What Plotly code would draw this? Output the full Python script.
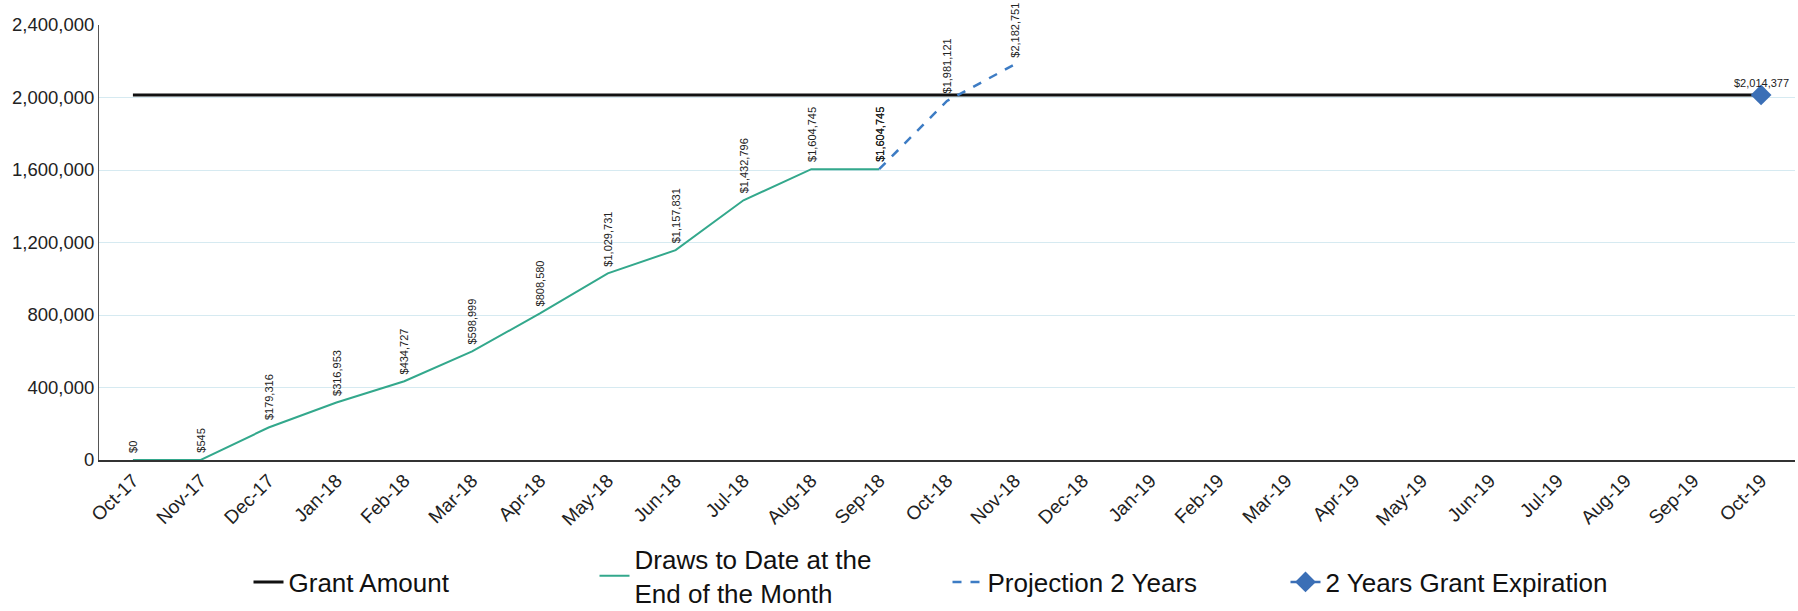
import plotly.graph_objects as go

# Monthly categories, Oct-17 through Oct-19
months = ["Oct-17", "Nov-17", "Dec-17", "Jan-18", "Feb-18", "Mar-18", "Apr-18",
          "May-18", "Jun-18", "Jul-18", "Aug-18", "Sep-18", "Oct-18", "Nov-18",
          "Dec-18", "Jan-19", "Feb-19", "Mar-19", "Apr-19", "May-19", "Jun-19",
          "Jul-19", "Aug-19", "Sep-19", "Oct-19"]

grant_amount = 2014377

draw_months = ["Oct-17", "Nov-17", "Dec-17", "Jan-18", "Feb-18", "Mar-18",
               "Apr-18", "May-18", "Jun-18", "Jul-18", "Aug-18", "Sep-18"]
draws = [0, 545, 179316, 316953, 434727, 598999, 808580, 1029731, 1157831,
         1432796, 1604745, 1604745]

proj_months = ["Sep-18", "Oct-18", "Nov-18"]
projection = [1604745, 1981121, 2182751]

expiry_month = ["Oct-19"]
expiry_value = [2014377]

y_ticks = [0, 400000, 800000, 1200000, 1600000, 2000000, 2400000]

FONT = "Liberation Sans, Arial, sans-serif"
LABEL_FONT = "Liberation Sans, Arial, sans-serif"

fig = go.Figure()

fig.add_trace(go.Scatter(
    x=months, y=[grant_amount] * len(months), mode="lines",
    name="Grant Amount", line=dict(color="#111111", width=3),
    legend="legend",
))
fig.add_trace(go.Scatter(
    x=draw_months, y=draws, mode="lines",
    name="Draws to Date at the<br>End of the Month",
    line=dict(color="#33a88c", width=2),
    legend="legend2",
))
fig.add_trace(go.Scatter(
    x=proj_months, y=projection, mode="lines",
    name="Projection 2 Years",
    line=dict(color="#3d7cc4", width=2.5, dash="dash"),
    legend="legend3",
))
fig.add_trace(go.Scatter(
    x=expiry_month, y=expiry_value, mode="lines+markers",
    name="2 Years Grant Expiration",
    marker=dict(symbol="diamond", size=16, color="#3b6fb6"),
    line=dict(color="#3b6fb6", width=2.5),
    legend="legend4",
))

# Vertical value labels above each point of the draw and projection series
for xs, ys in ((draw_months, draws), (proj_months, projection)):
    for m, v in zip(xs, ys):
        fig.add_annotation(
            x=m, y=v, xref="x", yref="y",
            text="${:,}".format(v), textangle=-90,
            showarrow=False, xanchor="center", yanchor="bottom", yshift=5,
            font=dict(family=LABEL_FONT, size=11, color="#222222"),
        )

# Horizontal label above the expiration marker
for m, v in zip(expiry_month, expiry_value):
    fig.add_annotation(
        x=m, y=v, xref="x", yref="y",
        text="${:,}".format(v), showarrow=False,
        xanchor="center", yanchor="bottom", yshift=4,
        font=dict(family=LABEL_FONT, size=11, color="#222222"),
    )

fig.update_xaxes(
    type="category", categoryorder="array", categoryarray=months,
    range=[-0.5, len(months) - 0.5],
    tickangle=-45, tickfont=dict(family=FONT, size=19, color="#222222"),
    showline=True, linecolor="#333333", linewidth=2,
    showgrid=False, ticks="", zeroline=False, automargin=False,
)
fig.update_yaxes(
    range=[0, 2400000], tickvals=y_ticks,
    tickformat=",d", tickfont=dict(family=FONT, size=18.5, color="#222222"),
    showline=True, linecolor="#555555", linewidth=1,
    showgrid=True, gridcolor="#d6eaf1", gridwidth=1,
    zeroline=False, ticks="", automargin=False,
)

PLOT_L, PLOT_W, PLOT_B, PLOT_H = 99, 1696, 460, 435


def legend_box(px_left, px_center_y=582):
    return dict(
        orientation="h",
        x=(px_left - PLOT_L) / PLOT_W, xanchor="left",
        y=(PLOT_B - px_center_y) / PLOT_H, yanchor="middle",
        font=dict(family=FONT, size=26, color="#111111"),
        bgcolor="rgba(0,0,0,0)", itemwidth=30,
    )


fig.update_layout(
    width=1798, height=611,
    margin=dict(l=PLOT_L, r=3, t=25, b=151, autoexpand=False),
    paper_bgcolor="white", plot_bgcolor="white",
    showlegend=True,
    legend=legend_box(248.5),
    legend2=legend_box(594.5, 576),
    legend3=legend_box(947.5),
    legend4=legend_box(1285.5),
)

fig.write_html("out.html")
